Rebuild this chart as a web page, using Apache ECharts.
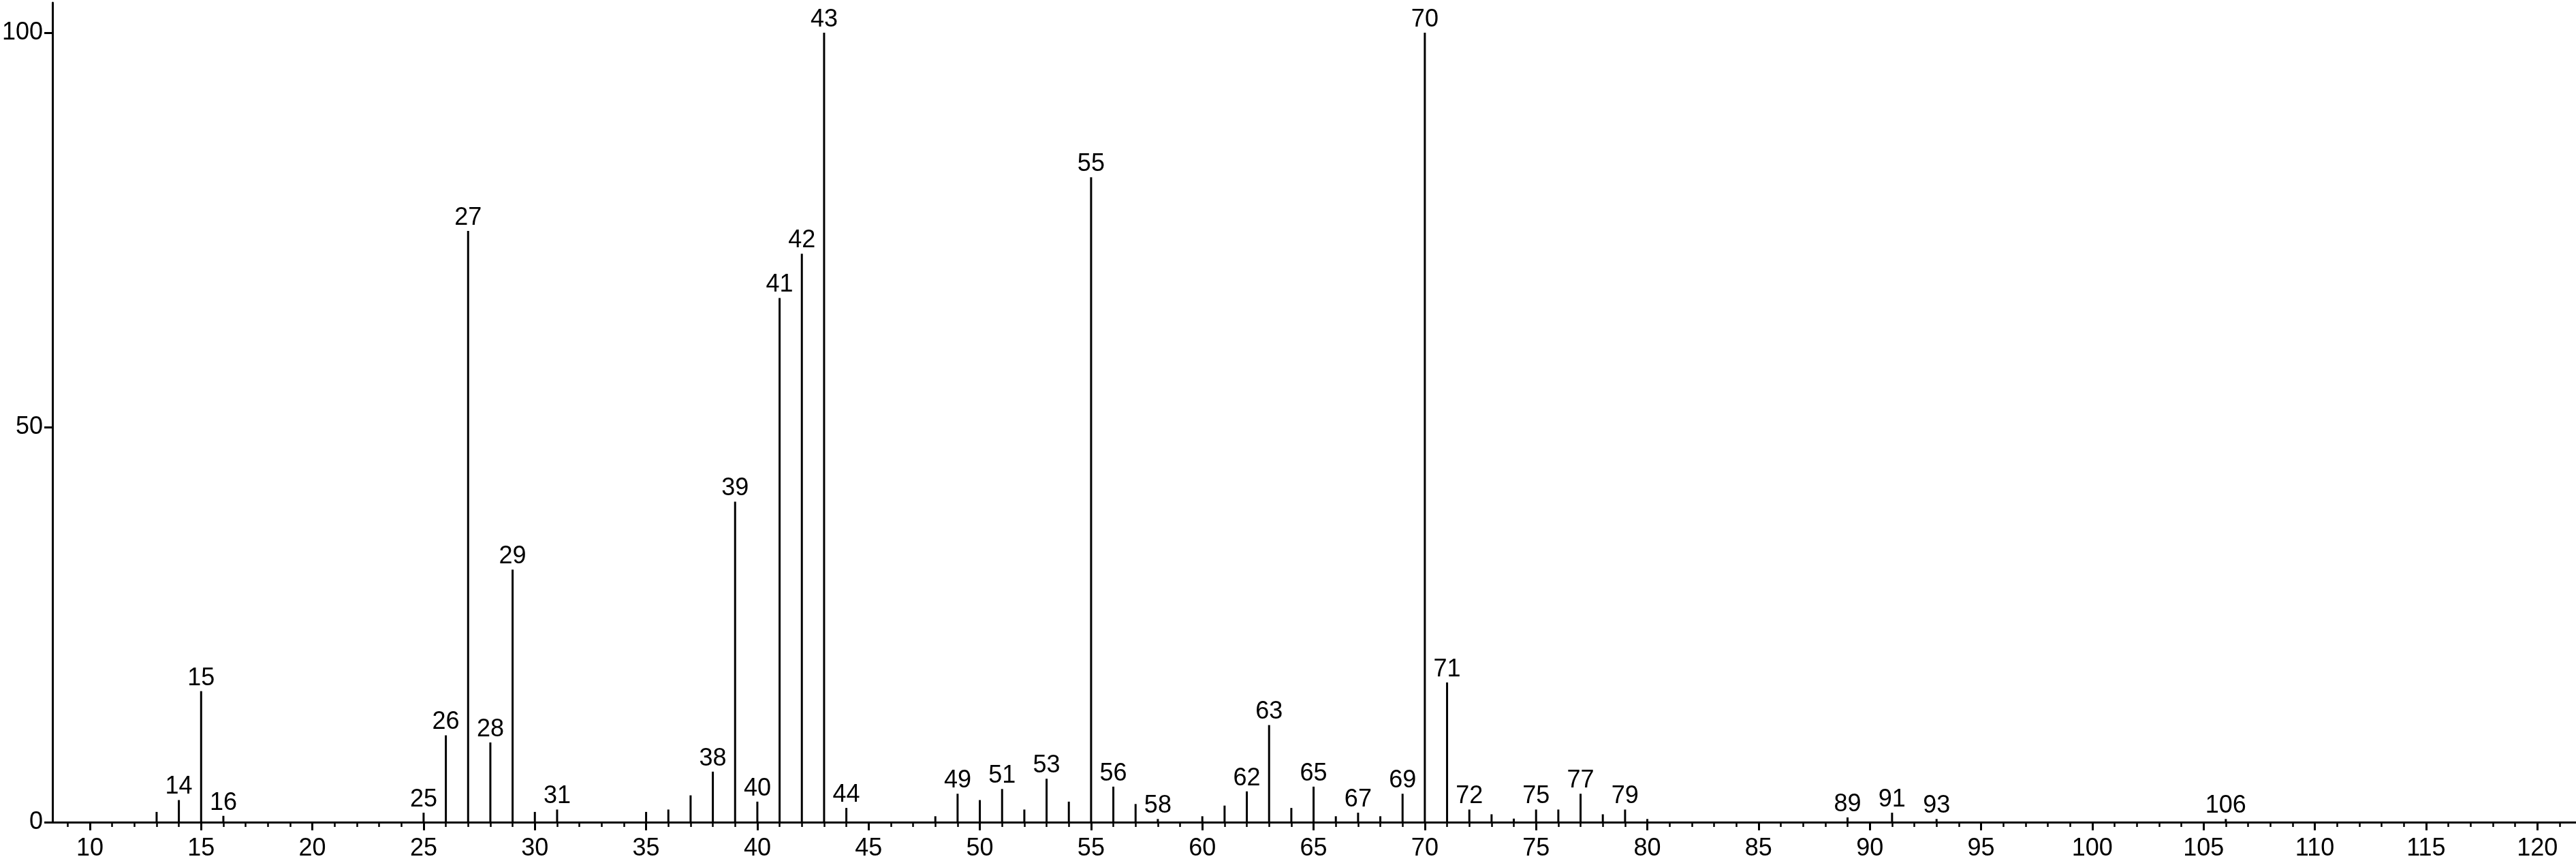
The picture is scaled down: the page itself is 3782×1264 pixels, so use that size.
<!DOCTYPE html>
<html>
<head>
<meta charset="utf-8">
<script src="https://cdn.jsdelivr.net/npm/echarts@6/dist/echarts.min.js"></script>
<style>
  html, body { margin: 0; padding: 0; background: #fff; }
  #chart-root { width: 3782px; height: 1264px; }
</style>
</head>
<body>
<div id="chart-root"></div>
<script>
// m/z of every peak
const mz = [13, 14, 15, 16, 25, 26, 27, 28, 29, 30, 31, 35, 36, 37, 38, 39, 40, 41, 42, 43, 44,
  48, 49, 50, 51, 52, 53, 54, 55, 56, 57, 58, 60, 61, 62, 63, 64, 65, 66, 67, 68, 69, 70, 71,
  72, 73, 74, 75, 76, 77, 78, 79, 80, 89, 91, 93, 106]
// relative intensity, same order
const intensity = [1.3, 2.8, 16.6, 0.8, 1.2, 11.0, 74.9, 10.1, 32.0, 1.3, 1.6, 1.3, 1.6, 3.4, 6.4, 40.6, 2.6, 66.4, 72.0, 100, 1.8,
  0.75, 3.6, 2.8, 4.2, 1.6, 5.5, 2.6, 81.7, 4.5, 2.3, 0.4, 0.75, 2.1, 3.9, 12.3, 1.8, 4.5, 0.75, 1.2, 0.75, 3.6, 100, 17.7,
  1.6, 1.0, 0.45, 1.6, 1.6, 3.6, 1.0, 1.6, 0.4, 0.6, 1.2, 0.4, 0.4]
// peaks that carry a label
const labeledMz = [14, 15, 16, 25, 26, 27, 28, 29, 31, 38, 39, 40, 41, 42, 43, 44, 49, 51, 53, 55, 56, 58,
  62, 63, 65, 67, 69, 70, 71, 72, 75, 77, 79, 89, 91, 93, 106]

const xMajorTicks = [10, 15, 20, 25, 30, 35, 40, 45, 50, 55, 60, 65, 70, 75, 80, 85, 90, 95, 100, 105, 110, 115, 120]
const xMinorTicks = []
for (let v = 9; v <= 121; v++) xMinorTicks.push(v)
const yTicks = [0, 50, 100]

const font = '"Liberation Sans Narrow", "Liberation Sans", Arial, sans-serif'

let chart = echarts.init(document.getElementById('chart-root'))

let xRange = {min: 8.32, max: 121.74}

let option = {
  animation: false,
  backgroundColor: '#fff',
  grid: {
    top: 4,
    bottom: 55,
    left: 68,
    right: 0
  },
  xAxis: [
    {
      type: 'value',
      position: 'bottom',
      min: xRange.min,
      max: xRange.max,
      axisLine: {onZero: false, lineStyle: {color: '#000', width: 3}},
      axisTick: {show: true, length: 12, lineStyle: {color: '#000', width: 3}, customValues: xMajorTicks},
      axisLabel: {
        customValues: xMajorTicks,
        color: '#000',
        fontFamily: font,
        fontSize: 36,
        margin: 21
      },
      splitLine: {show: false}
    },
    {
      // minor ticks, every unit
      type: 'value',
      position: 'bottom',
      min: xRange.min,
      max: xRange.max,
      axisLine: {show: false},
      axisTick: {show: true, length: 7, lineStyle: {color: '#000', width: 2.5}, customValues: xMinorTicks},
      axisLabel: {show: false},
      splitLine: {show: false}
    }
  ],
  yAxis: {
    type: 'value',
    min: 0,
    max: 103.8,
    axisLine: {show: true, lineStyle: {color: '#000', width: 3}},
    axisTick: {show: true, length: 12, lineStyle: {color: '#000', width: 3}, customValues: yTicks},
    axisLabel: {
      customValues: yTicks,
      color: '#000',
      fontFamily: font,
      fontSize: 36,
      margin: 14
    },
    splitLine: {show: false}
  },
  series: [
    {
      type: 'bar',
      xAxisIndex: 0,
      barWidth: 3,
      itemStyle: {color: '#000'},
      label: {
        show: true,
        position: 'top',
        distance: 1,
        color: '#000',
        fontFamily: font,
        fontSize: 36,
        formatter: p => labeledMz.includes(p.data[0]) ? String(p.data[0]) : ''
      },
      data: mz.map((m, i) => [m, intensity[i]])
    }
  ]
}

chart.setOption(option)
</script>
</body>
</html>
